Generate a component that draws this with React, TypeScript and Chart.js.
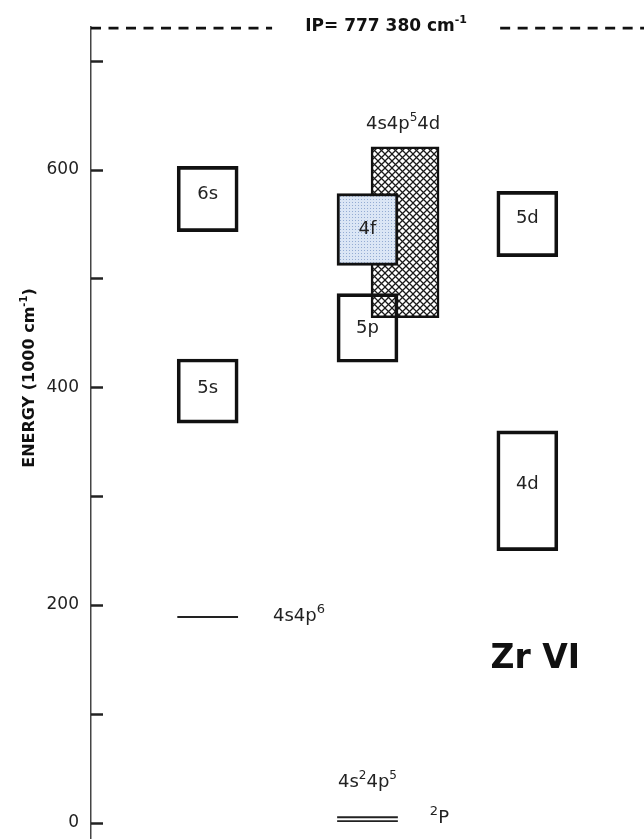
import React, { useEffect, useRef } from "react";
import { Chart, registerables } from "chart.js";

Chart.register(...registerables);

// ---------- data (energies in 1000 cm^-1) ----------
const boxLabels = ["6s", "5s", "5d", "4d", "5p"];
const boxColumns = [1, 1, 3, 3, 2];
const boxLow = [543, 367, 520, 250, 423];
const boxHigh = [603, 426, 580, 360, 486];

const fLabel = "4f";
const fColumn = 2;
const fLow = 512;
const fHigh = 578;

const mixColumn = 2.235;
const mixLow = 464;
const mixHigh = 621;

const level6Column = 1;
const level6Energy = [189];

const groundColumn = 2;
const groundEnergies = [1.5, 5];

const ipEnergy = 730;
const yTickValues = [0, 100, 200, 300, 400, 500, 600, 700];
const yLabelValues = [0, 200, 400, 600];

// ---------- styles ----------
const FONT = '"DejaVu Sans", sans-serif';
const boxLabelNudge = [-5, -3, -6, -6, 0];
const levelHalf = 0.19;
const ipGapLeft = 1.403;
const ipGapRight = 2.83;
const ionAnchor = { x: 3.05, y: 150 };
const X_MIN = 0.27;
const X_MAX = 3.73;

type Part = [string, boolean?];

function drawRich(
  ctx: CanvasRenderingContext2D,
  parts: Part[],
  x: number,
  y: number,
  size: number,
  weight: string,
  align: "left" | "center" | "right",
  supScale = 0.65
) {
  const supSize = Math.round(size * supScale);
  const widths = parts.map(([t, sup]) => {
    ctx.font = `${weight} ${sup ? supSize : size}px ${FONT}`;
    return ctx.measureText(t).width;
  });
  const total = widths.reduce((a, b) => a + b, 0);
  let cx = align === "center" ? x - total / 2 : align === "right" ? x - total : x;
  ctx.textAlign = "left";
  ctx.textBaseline = "middle";
  parts.forEach(([t, sup], i) => {
    ctx.font = `${weight} ${sup ? supSize : size}px ${FONT}`;
    ctx.fillText(t, cx, sup ? y - size * 0.36 : y);
    cx += widths[i];
  });
}

function makeHatch(): CanvasPattern | string {
  const c = document.createElement("canvas");
  const s = 7;
  c.width = s;
  c.height = s;
  const g = c.getContext("2d");
  if (!g) return "#888";
  g.fillStyle = "#ffffff";
  g.fillRect(0, 0, s, s);
  g.strokeStyle = "#1a1a1a";
  g.lineWidth = 1.25;
  for (const k of [-s, 0, s]) {
    g.beginPath();
    g.moveTo(k, 0);
    g.lineTo(k + s, s);
    g.moveTo(k + s, 0);
    g.lineTo(k, s);
    g.stroke();
  }
  const p = g.createPattern(c, "repeat");
  return p || "#888";
}

function makeDots(): CanvasPattern | string {
  const c = document.createElement("canvas");
  c.width = 3;
  c.height = 3;
  const g = c.getContext("2d");
  if (!g) return "#dde7f3";
  g.fillStyle = "#dbe6f5";
  g.fillRect(0, 0, 3, 3);
  g.fillStyle = "#94acd3";
  g.fillRect(1, 1, 1, 1);
  const p = g.createPattern(c, "repeat");
  return p || "#dde7f3";
}

const overlayPlugin = {
  id: "levelOverlay",
  afterDatasetsDraw(chart: any) {
    const ctx: CanvasRenderingContext2D = chart.ctx;
    const xs = chart.scales.x;
    const ys = chart.scales.y;
    const area = chart.chartArea;
    ctx.save();
    // inward tick marks
    ctx.strokeStyle = "#222";
    ctx.lineWidth = 2.5;
    yTickValues.forEach((v) => {
      const py = Math.round(ys.getPixelForValue(v)) + 0.5;
      ctx.beginPath();
      ctx.moveTo(area.left, py);
      ctx.lineTo(area.left + 12, py);
      ctx.stroke();
    });

    ctx.fillStyle = "#222";
    // box labels
    boxLabels.forEach((lab, i) => {
      const px = xs.getPixelForValue(boxColumns[i]);
      const py = (ys.getPixelForValue(boxLow[i]) + ys.getPixelForValue(boxHigh[i])) / 2 + boxLabelNudge[i];
      drawRich(ctx, [[lab]], px, py, 18, "normal", "center");
    });
    {
      const px = xs.getPixelForValue(fColumn);
      const py = (ys.getPixelForValue(fLow) + ys.getPixelForValue(fHigh)) / 2;
      drawRich(ctx, [[fLabel]], px, py, 18, "normal", "center");
    }
    // 4s4p5 4d label
    drawRich(
      ctx,
      [["4s4p"], ["5", true], ["4d"]],
      xs.getPixelForValue(mixColumn) - 2,
      ys.getPixelForValue(mixHigh) - 22,
      18,
      "normal",
      "center"
    );
    // 4s4p6 label
    drawRich(
      ctx,
      [["4s4p"], ["6", true]],
      xs.getPixelForValue(level6Column + levelHalf) + 35,
      ys.getPixelForValue(level6Energy[0]) - 1,
      18,
      "normal",
      "left",
      0.72
    );
    // ground config labels
    const gTop = ys.getPixelForValue(Math.max(...groundEnergies));
    const gBot = ys.getPixelForValue(Math.min(...groundEnergies));
    drawRich(
      ctx,
      [["4s"], ["2", true], ["4p"], ["5", true]],
      xs.getPixelForValue(groundColumn),
      gTop - 35,
      18,
      "normal",
      "center"
    );
    drawRich(
      ctx,
      [["2", true], ["P"]],
      xs.getPixelForValue(groundColumn + levelHalf) + 32,
      (gTop + gBot) / 2 - 1,
      18,
      "normal",
      "left",
      0.72
    );
    // ion label
    ctx.fillStyle = "#111";
    drawRich(
      ctx,
      [["Zr VI"]],
      xs.getPixelForValue(ionAnchor.x),
      ys.getPixelForValue(ionAnchor.y),
      33,
      "bold",
      "center"
    );
    // IP label
    drawRich(
      ctx,
      [["IP= 777 380 cm"], ["-1", true]],
      (xs.getPixelForValue(ipGapLeft) + xs.getPixelForValue(ipGapRight)) / 2,
      ys.getPixelForValue(ipEnergy) - 2,
      17,
      "bold",
      "center"
    );
    // y title
    ctx.fillStyle = "#111";
    ctx.translate(30, 378);
    ctx.rotate(-Math.PI / 2);
    drawRich(ctx, [["ENERGY (1000 cm"], ["-1", true], [")"]], 0, 0, 16, "bold", "center");
    ctx.restore();
  },
};

export default function App() {
  const ref = useRef<HTMLCanvasElement | null>(null);

  useEffect(() => {
    if (!ref.current) return;
    const hatch = makeHatch();
    const dots = makeDots();
    const lineCommon = {
      type: "line" as const,
      pointRadius: 0,
      borderColor: "#222",
      borderWidth: 2,
      fill: false,
      clip: false as any,
      order: -1,
    };
    const chart = new Chart(ref.current, {
      type: "bar",
      data: {
        datasets: [
          {
            type: "bar",
            label: "configurations",
            data: boxLow.map((lo, i) => ({ x: boxColumns[i], y: [lo, boxHigh[i]] })) as any,
            backgroundColor: "rgba(255,255,255,0)",
            borderColor: "#111",
            borderWidth: 3,
            borderSkipped: false,
            barThickness: 61,
            grouped: false,
            order: 0,
          },
          {
            type: "bar",
            label: fLabel,
            data: [{ x: fColumn, y: [fLow, fHigh] }] as any,
            backgroundColor: dots as any,
            borderColor: "#111",
            borderWidth: 3,
            borderSkipped: false,
            barThickness: 61,
            grouped: false,
            order: 1,
          },
          {
            type: "bar",
            label: "4s4p5 4d",
            data: [{ x: mixColumn, y: [mixLow, mixHigh] }] as any,
            backgroundColor: hatch as any,
            borderColor: "#111",
            borderWidth: 2.5,
            borderSkipped: false,
            barThickness: 68,
            grouped: false,
            order: 2,
          },
          {
            ...lineCommon,
            label: "4s4p6",
            data: [
              { x: level6Column - levelHalf, y: level6Energy[0] },
              { x: level6Column + levelHalf, y: level6Energy[0] },
            ],
          },
          ...groundEnergies.map((e, i) => ({
            ...lineCommon,
            label: "ground " + i,
            borderWidth: 1.8,
            data: [
              { x: groundColumn - levelHalf, y: e },
              { x: groundColumn + levelHalf, y: e },
            ],
          })),
          {
            ...lineCommon,
            label: "IP left",
            borderColor: "#111",
            borderWidth: 2.8,
            borderDash: [10, 7.5],
            data: [
              { x: X_MIN, y: ipEnergy },
              { x: ipGapLeft, y: ipEnergy },
            ],
          },
          {
            ...lineCommon,
            label: "IP right",
            borderColor: "#111",
            borderWidth: 2.8,
            borderDash: [10, 7.5],
            data: [
              { x: ipGapRight, y: ipEnergy },
              { x: X_MAX, y: ipEnergy },
            ],
          },
        ] as any,
      },
      options: {
        animation: false,
        responsive: true,
        maintainAspectRatio: false,
        events: [],
        layout: { padding: { top: 27, left: 0, right: 0, bottom: 0 } },
        plugins: { legend: { display: false }, tooltip: { enabled: false } },
        scales: {
          x: { type: "linear", display: false, min: X_MIN, max: X_MAX, offset: false },
          y: {
            type: "linear",
            min: -15,
            max: 731,
            grid: { display: true, drawOnChartArea: false, drawTicks: false },
            border: { display: true, color: "#444", width: 1.5 },
            ticks: {
              stepSize: 100,
              includeBounds: false,
              padding: 12,
              color: "#222",
              font: { family: FONT, size: 17 },
              callback: (v: any) => (yLabelValues.includes(Number(v)) ? String(v) : ""),
            },
            afterFit: (s: any) => {
              s.width = 91;
              s.paddingTop = 0;
              s.paddingBottom = 0;
            },
          },
        },
      } as any,
      plugins: [overlayPlugin],
    });
    return () => chart.destroy();
  }, []);

  return (
    <div
      style={{
        position: "absolute",
        left: 0,
        top: 0,
        width: 644,
        height: 839,
        background: "#fff",
      }}
    >
      <canvas ref={ref} />
    </div>
  );
}
